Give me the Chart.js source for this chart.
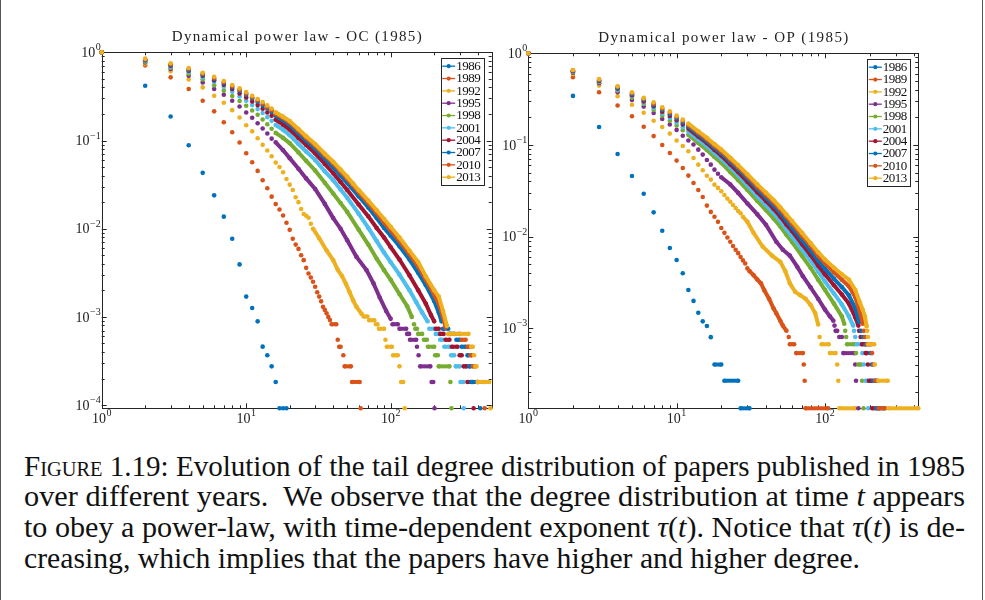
<!DOCTYPE html>
<html>
<head>
<meta charset="utf-8">
<script src="https://cdn.jsdelivr.net/npm/chart.js@4.4.0/dist/chart.umd.min.js"></script>
<style>
  body { margin: 0; background: #fff; width: 985px; height: 600px; position: relative; overflow: hidden; font-family: "Liberation Serif", serif; }
  .frame { position: absolute; top: 0; bottom: 0; width: 1px; background: #555; }
  #wrapL { position: absolute; left: 0; top: 0; width: 500px; height: 440px; }
  #wrapR { position: absolute; left: 500px; top: 0; width: 485px; height: 440px; }
  #caption { position: absolute; left: 24px; top: 451.5px; width: 960px; font-size: 28.5px; line-height: 30.8px; color: #111; }
  #caption .ln { white-space: nowrap; height: 30.8px; }
  #caption .ln span.inner { display: inline-block; transform-origin: 0 50%; }
  .sc { font-variant: small-caps; }
</style>
</head>
<body>
<div class="frame" style="left:0"></div>
<div class="frame" style="left:982px"></div>
<div id="wrapL"><canvas id="chartOC" width="500" height="440"></canvas></div>
<div id="wrapR"><canvas id="chartOP" width="485" height="440"></canvas></div>
<div id="caption">
  <div class="ln"><span class="inner">F<span class="sc">igure</span> 1.19: Evolution of the tail degree distribution of papers published in 1985</span></div>
  <div class="ln"><span class="inner">over different years.&nbsp; We observe that the degree distribution at time <i>t</i> appears</span></div>
  <div class="ln"><span class="inner">to obey a power-law, with time-dependent exponent <i>τ</i>(<i>t</i>). Notice that <i>τ</i>(<i>t</i>) is de-</span></div>
  <div class="ln"><span class="inner">creasing, which implies that the papers have higher and higher degree.</span></div>
</div>
<script>
// years and colours (MATLAB default order)
const years = [1986, 1989, 1992, 1995, 1998, 2001, 2004, 2007, 2010, 2013];
const colors = ['#0072BD', '#D95319', '#EDB120', '#7E2F8E', '#77AC30', '#4DBEEE', '#A2142F', '#0072BD', '#D95319', '#EDB120'];

// --- OC (1985): [degree, P(D >= degree)], null = gap ---
const oc1986 = [[1,1],[2,0.418],[3,0.187],[4,0.0885],[5,0.043],[6,0.0239],[7,0.0137],[8,0.0077],[9,0.00394],[10,0.0017],[11,0.00126],[12,0.00089],[13,4.6e-4],[14,3.67e-4],[15,2.75e-4],[16,1.83e-4],[17,9.2e-5],[18,9.2e-5],[19,9.2e-5]];
const oc1989 = [[1,1],[2,0.711],[3,0.52],[4,0.383],[5,0.282],[6,0.214],[7,0.161],[8,0.124],[9,0.0949],[10,0.0718],[11,0.0567],[12,0.0452],[13,0.0354],[14,0.0287],[15,0.0231],[16,0.019],[17,0.0165],[18,0.0141],[19,0.0117],[20,0.0097],[21,0.0077],[22,0.0066],[23,0.0059],[24,0.005],[25,0.0044],[26,0.0036],[27,0.0031],[28,0.0028],[29,0.0025],[30,0.0022],[31,0.0019],[32,0.0017],[33,0.0015],[34,0.0013],[35,0.0012],[36,0.0011],[37,0.001],[38,9.2e-4],[39,8.26e-4],[42,8.26e-4],null,[43,5.5e-4],[44,4.59e-4],[45,4.59e-4],null,[47,3.67e-4],null,[48,2.75e-4],[53,2.75e-4],null,[54,1.83e-4],[61,1.83e-4],null,[62,9.2e-5]];
const oc1992 = [[1,1],[2,0.743],[3,0.608],[4,0.493],[5,0.40],[6,0.322],[7,0.268],[8,0.221],[9,0.182],[10,0.149],[11,0.127],[12,0.106],[13,0.0893],[14,0.0769],[15,0.0664],[16,0.0562],[17,0.0501],[18,0.0437],[19,0.0366],[20,0.0316],[21,0.0275],[22,0.0227],[23,0.02],[24,0.0167],[25,0.0147],[26,0.014],[27,0.0133],[28,0.0114],[29,0.01],[32,0.0078],[36,0.00567],[40,0.0044],[43,0.00342],[46,0.0029],[49,0.00237],[52,0.0019],[55,0.00153],[58,0.0013],[63,0.00108],null,[65,1.01e-3],[69,1.01e-3],null,[71,9.17e-4],[77,9.17e-4],null,[79,8.26e-4],[81,8.26e-4],null,[83,7.34e-4],[90,7.34e-4],null,[92,5.5e-4],null,[94,4.59e-4],[102,4.59e-4],null,[104,3.67e-4],[112,3.67e-4],null,[115,2.75e-4],null,[118,1.83e-4],[122,1.83e-4],null,[125,9.2e-5]];
const oc1995 = [[1,1],[2,0.769],[3,0.647],[4,0.543],[5,0.456],[6,0.383],[7,0.330],[8,0.282],[9,0.243],[10,0.208],[11,0.181],[12,0.157],[13,0.137],[14,0.120],[15,0.105],[16,0.0955],[18,0.0776],[20,0.0631],[23,0.0479],[26,0.0372],[30,0.0282],[35,0.0191],[40,0.0132],[45,0.01],[50,0.00741],[58,0.00479],[68,0.00339],[76,0.0024],[84,0.00166],[93,0.00117],[100,9.5e-4],null,[103,8.26e-4],[112,8.26e-4],null,[115,7.34e-4],[128,7.34e-4],null,[130,6.42e-4],[134,6.42e-4],null,[136,5.5e-4],[150,5.5e-4],null,[152,4.59e-4],null,[156,3.67e-4],null,[160,2.75e-4],[188,2.75e-4],null,[192,1.83e-4],[197,1.83e-4],null,[201,9.2e-5]];
const oc1998 = [[1,1],[2,0.783],[3,0.670],[4,0.573],[5,0.493],[6,0.422],[7,0.366],[8,0.319],[9,0.280],[10,0.248],[11,0.219],[12,0.196],[13,0.173],[14,0.153],[15,0.136],[16,0.122],[18,0.107],[20,0.0933],[23,0.0733],[26,0.0589],[30,0.0457],[35,0.0331],[40,0.0251],[45,0.0195],[50,0.0155],[60,0.00977],[70,0.00661],[80,0.00457],[90,0.00339],[100,0.00263],[115,0.00182],[130,0.00132],[140,0.001],null,[145,8.26e-4],null,[148,7.34e-4],[152,7.34e-4],null,[155,6.42e-4],[165,6.42e-4],null,[170,5.5e-4],[178,5.5e-4],null,[181,4.59e-4],[200,4.59e-4],null,[203,3.67e-4],[212,3.67e-4],null,[215,2.75e-4],[255,2.75e-4],null,[259,1.83e-4],null,[263,9.2e-5]];
const oc2001 = [[1,1],[2,0.798],[3,0.687],[4,0.598],[5,0.520],[6,0.460],[7,0.404],[8,0.357],[9,0.316],[10,0.282],[11,0.252],[12,0.227],[13,0.205],[14,0.184],[15,0.167],[16,0.15],[18,0.132],[20,0.115],[23,0.0912],[26,0.075],[30,0.0603],[35,0.0447],[40,0.0355],[45,0.0279],[50,0.0224],[60,0.0148],[70,0.0102],[80,0.00724],[90,0.00537],[100,0.00417],[115,0.00302],[135,0.002],[150,0.00148],[165,0.00112],[180,8.9e-4],null,[185,7.34e-4],[200,7.34e-4],null,[205,6.42e-4],[215,6.42e-4],null,[220,5.5e-4],[228,5.5e-4],null,[235,4.59e-4],[255,4.59e-4],null,[262,3.67e-4],[275,3.67e-4],null,[282,2.75e-4],[300,2.75e-4],null,[304,1.83e-4],[318,1.83e-4],null,[320,9.2e-5]];
const oc2004 = [[1,1],[2,0.811],[3,0.705],[4,0.619],[5,0.543],[6,0.481],[7,0.430],[8,0.383],[9,0.342],[10,0.308],[11,0.277],[12,0.252],[13,0.229],[14,0.208],[15,0.191],[16,0.172],[18,0.151],[20,0.133],[23,0.107],[26,0.0891],[30,0.0716],[35,0.0543],[40,0.0427],[45,0.0339],[50,0.0275],[60,0.0188],[70,0.0138],[80,0.0102],[90,0.00794],[100,0.00617],[115,0.00447],[135,0.00295],[155,0.002],[175,0.00141],[190,0.00105],[200,8.9e-4],null,[205,7.34e-4],[215,7.34e-4],null,[220,6.42e-4],[232,6.42e-4],null,[240,5.5e-4],[255,5.5e-4],null,[265,4.59e-4],[290,4.59e-4],null,[300,3.67e-4],[310,3.67e-4],null,[320,2.75e-4],[335,2.75e-4],null,[340,1.83e-4],[370,1.83e-4],null,[375,9.2e-5]];
const oc2007 = [[1,1],[2,0.818],[3,0.718],[4,0.630],[5,0.557],[6,0.498],[7,0.449],[8,0.404],[9,0.364],[10,0.330],[11,0.300],[12,0.273],[13,0.250],[14,0.229],[15,0.210],[16,0.191],[18,0.17],[20,0.15],[23,0.12],[26,0.1],[30,0.0813],[35,0.0624],[40,0.0501],[45,0.0398],[50,0.0331],[60,0.0234],[70,0.0174],[80,0.0132],[90,0.0102],[100,0.00832],[115,0.00631],[135,0.00447],[155,0.00316],[175,0.00229],[200,0.00151],[215,0.00112],[225,8.9e-4],null,[230,7.34e-4],[250,7.34e-4],null,[260,6.42e-4],[275,6.42e-4],null,[285,5.5e-4],[300,5.5e-4],null,[310,4.59e-4],[330,4.59e-4],null,[340,3.67e-4],[345,3.67e-4],null,[350,2.75e-4],[355,2.75e-4],null,[360,1.83e-4],[400,1.83e-4],null,[417,9.2e-5]];
const oc2010 = [[1,1],[2,0.832],[3,0.731],[4,0.647],[5,0.573],[6,0.511],[7,0.460],[8,0.414],[9,0.377],[10,0.342],[11,0.310],[12,0.285],[13,0.261],[14,0.239],[15,0.221],[16,0.2],[18,0.18],[20,0.16],[23,0.129],[26,0.107],[30,0.0871],[35,0.0676],[40,0.055],[45,0.0442],[50,0.0367],[60,0.026],[70,0.0195],[80,0.015],[90,0.0117],[100,0.00955],[115,0.00724],[135,0.00513],[155,0.00372],[175,0.00263],[200,0.00178],[215,0.00141],[230,0.001],[240,7.6e-4],null,[255,6.42e-4],[300,6.42e-4],null,[310,5.5e-4],[330,5.5e-4],null,[340,4.59e-4],[350,4.59e-4],null,[358,3.67e-4],[362,3.67e-4],null,[370,2.75e-4],[385,2.75e-4],null,[400,1.83e-4],[440,1.83e-4],null,[447,9.2e-5]];
const oc2013 = [[1,1],[2,0.847],[3,0.750],[4,0.664],[5,0.587],[6,0.528],[7,0.472],[8,0.426],[9,0.390],[10,0.354],[11,0.322],[12,0.295],[13,0.273],[14,0.250],[15,0.231],[16,0.209],[18,0.186],[20,0.166],[23,0.135],[26,0.112],[30,0.0912],[35,0.0708],[40,0.0575],[45,0.0468],[50,0.0389],[55,0.0324],[60,0.0275],[70,0.0209],[80,0.0162],[90,0.0129],[100,0.0105],[115,0.00794],[135,0.00562],[155,0.00417],[175,0.00288],[200,0.002],[215,0.0017],[230,0.00117],[245,7.9e-4],null,[250,6.42e-4],[345,6.42e-4],null,[360,4.59e-4],[370,4.59e-4],null,[378,3.67e-4],null,[385,2.75e-4],[392,2.75e-4],null,[400,1.83e-4],[480,1.83e-4],null,[490,9.2e-5]];

// --- OP (1985) ---
const op1986 = [[1,1],[2,0.343],[3,0.157],[4,0.0798],[5,0.0459],[6,0.0294],[7,0.0184],[8,0.0116],[9,0.00752],[10,0.00556],[11,0.00398],[12,0.00262],[13,0.00199],[14,0.00148],[15,0.00119],[16,0.00106],[17,8.0e-4],[18,4.02e-4],[20,4.02e-4],null,[21,2.68e-4],[26,2.68e-4],null,[27,1.34e-4],[31,1.34e-4]];
const op1989 = [[1,1],[2,0.547],[3,0.376],[4,0.269],[5,0.206],[6,0.158],[7,0.125],[8,0.1],[9,0.0818],[10,0.0675],[11,0.0561],[12,0.0463],[13,0.0385],[14,0.0323],[15,0.0271],[16,0.0218],[17,0.0186],[18,0.0165],[19,0.0145],[20,0.0124],[21,0.011],[22,0.0098],[23,0.0088],[24,0.0079],[25,0.0072],[26,0.0066],[27,0.006],[28,0.0055],[29,0.0051],[30,0.0045],[31,0.0042],[33,0.0038],[35,0.0034],[37,0.0031],[39,0.0026],[42,0.0021],[45,0.00165],[47,0.00146],[50,0.00121],[52,0.00107],[55,9.4e-4],null,[57,8.04e-4],null,[58,6.7e-4],[62,6.7e-4],null,[64,5.36e-4],[71,5.36e-4],null,[72,4.02e-4],null,[73,2.68e-4],null,[74,1.34e-4],[105,1.34e-4]];
const op1992 = [[1,1],[2,0.596],[3,0.444],[4,0.340],[5,0.275],[6,0.225],[7,0.184],[8,0.157],[9,0.133],[10,0.112],[11,0.0975],[12,0.0853],[13,0.0721],[14,0.061],[15,0.053],[16,0.0462],[17,0.0419],[18,0.0369],[19,0.034],[20,0.0313],[21,0.0285],[22,0.026],[23,0.024],[24,0.0221],[25,0.0205],[26,0.019],[27,0.018],[28,0.0165],[30,0.0145],[33,0.011],[38,0.0078],[44,0.0062],[50,0.0053],[54,0.0042],[58,0.0031],[63,0.0025],[68,0.0023],[74,0.0021],[80,0.0018],[86,0.00146],[90,0.0011],null,[92,8.04e-4],null,[95,6.7e-4],[106,6.7e-4],null,[108,5.36e-4],[118,5.36e-4],null,[121,4.02e-4],null,[123,2.68e-4],null,[125,1.34e-4],[160,1.34e-4]];
const op1995 = [[1,1],[2,0.615],[3,0.471],[4,0.376],[5,0.310],[6,0.262],[7,0.223],[8,0.192],[9,0.167],[10,0.146],[11,0.126],[12,0.112],[13,0.101],[14,0.0889],[15,0.0785],[16,0.0686],[17,0.061],[18,0.0538],[19,0.0486],[20,0.0444],[23,0.037],[26,0.03],[30,0.023],[35,0.0175],[40,0.0135],[47,0.0088],[52,0.0072],[58,0.0062],[65,0.0047],[71,0.0037],[80,0.0028],[90,0.0021],[100,0.0016],[108,0.00135],[114,0.00121],null,[116,1.07e-3],null,[118,9.38e-4],[121,9.38e-4],null,[125,8.04e-4],[130,8.04e-4],null,[133,5.36e-4],[158,5.36e-4],null,[160,4.02e-4],null,[162,2.68e-4],null,[168,1.34e-4]];
const op1998 = [[1,1],[2,0.625],[3,0.483],[4,0.392],[5,0.328],[6,0.280],[7,0.241],[8,0.209],[9,0.184],[10,0.163],[11,0.145],[12,0.129],[14,0.105],[16,0.0881],[18,0.0741],[20,0.0638],[23,0.0507],[26,0.0414],[30,0.0324],[35,0.0245],[40,0.0195],[45,0.0158],[50,0.0129],[55,0.0105],[60,0.00871],[70,0.00617],[80,0.00457],[90,0.00339],[100,0.00263],[115,0.00186],[130,0.00135],[135,0.00112],null,[137,9.38e-4],null,[139,8.04e-4],null,[141,6.7e-4],[158,6.7e-4],null,[162,5.36e-4],null,[168,4.02e-4],[175,4.02e-4],null,[178,2.68e-4],null,[182,1.34e-4]];
const op2001 = [[1,1],[2,0.631],[3,0.491],[4,0.402],[5,0.340],[6,0.290],[7,0.254],[8,0.221],[9,0.197],[10,0.175],[11,0.156],[12,0.140],[14,0.115],[16,0.097],[18,0.0818],[20,0.0708],[23,0.0569],[26,0.0466],[30,0.0363],[35,0.0275],[40,0.0221],[45,0.0181],[50,0.0148],[55,0.012],[60,0.01],[70,0.00724],[80,0.0055],[90,0.00417],[100,0.00324],[115,0.0024],[130,0.00182],[145,0.00135],[155,0.00107],null,[157,9.38e-4],null,[160,8.04e-4],null,[164,6.7e-4],[176,6.7e-4],null,[179,5.36e-4],null,[183,4.02e-4],null,[188,2.68e-4],[194,2.68e-4],null,[196,1.34e-4]];
const op2004 = [[1,1],[2,0.637],[3,0.499],[4,0.412],[5,0.348],[6,0.299],[7,0.264],[8,0.231],[9,0.207],[10,0.186],[11,0.167],[12,0.151],[14,0.124],[16,0.105],[18,0.0885],[20,0.0767],[23,0.0617],[26,0.0507],[30,0.0398],[35,0.0305],[40,0.0245],[45,0.0202],[50,0.0166],[55,0.0136],[60,0.0115],[70,0.00832],[80,0.00631],[90,0.00484],[100,0.00389],[115,0.00295],[130,0.00234],[145,0.00186],[160,0.00132],[168,0.00107],null,[170,9.38e-4],null,[174,8.04e-4],null,[178,6.7e-4],[186,6.7e-4],null,[188,5.36e-4],[192,5.36e-4],null,[195,4.02e-4],null,[198,2.68e-4],[206,2.68e-4],null,[208,1.34e-4],[232,1.34e-4]];
const op2007 = [[1,1],[2,0.647],[3,0.507],[4,0.419],[5,0.357],[6,0.310],[7,0.273],[8,0.241],[9,0.216],[10,0.194],[11,0.175],[12,0.158],[14,0.130],[16,0.110],[18,0.0933],[20,0.0813],[23,0.0658],[26,0.0545],[30,0.0432],[35,0.0331],[40,0.0267],[45,0.022],[50,0.0182],[55,0.015],[60,0.0126],[70,0.00923],[80,0.00708],[90,0.0055],[100,0.00447],[115,0.00347],[130,0.00282],[145,0.00229],[160,0.00166],[170,0.00117],null,[175,9.38e-4],null,[180,8.04e-4],null,[188,6.7e-4],[200,6.7e-4],null,[203,5.36e-4],null,[207,4.02e-4],null,[211,2.68e-4],[220,2.68e-4],null,[222,1.34e-4],[250,1.34e-4]];
const op2010 = [[1,1],[2,0.653],[3,0.516],[4,0.430],[5,0.366],[6,0.318],[7,0.282],[8,0.249],[9,0.225],[10,0.202],[11,0.183],[12,0.165],[14,0.136],[16,0.115],[18,0.0977],[20,0.0851],[23,0.0692],[26,0.0575],[30,0.0457],[35,0.0351],[40,0.0285],[45,0.0237],[50,0.0197],[55,0.0164],[60,0.0138],[70,0.0102],[80,0.00794],[90,0.00617],[100,0.00513],[115,0.00407],[130,0.00339],[145,0.00288],[160,0.00219],[172,0.00151],[180,0.00112],null,[183,9.38e-4],null,[186,8.04e-4],null,[192,6.7e-4],[205,6.7e-4],null,[208,5.36e-4],null,[212,4.02e-4],null,[218,2.68e-4],[226,2.68e-4],null,[230,1.34e-4],[255,1.34e-4]];
const op2013 = [[1,1],[2,0.658],[3,0.525],[4,0.437],[5,0.376],[6,0.326],[7,0.292],[8,0.258],[9,0.233],[10,0.209],[11,0.189],[12,0.171],[14,0.141],[16,0.12],[18,0.102],[20,0.0891],[23,0.0724],[26,0.0603],[30,0.0479],[35,0.0372],[40,0.0302],[45,0.0251],[50,0.0209],[55,0.0174],[60,0.0148],[70,0.011],[80,0.00851],[90,0.00676],[100,0.00562],[115,0.00457],[130,0.00389],[145,0.00339],[160,0.00263],[172,0.00191],[180,0.00158],[186,0.00135],[191,0.00105],null,[193,9.38e-4],null,[195,8.04e-4],null,[196,6.7e-4],[215,6.7e-4],null,[217,4.02e-4],null,[229,2.68e-4],[265,2.68e-4],null,[268,1.34e-4],[426,1.34e-4]];

// axis limits
const ocRange = { xMin: 1, xMax: 500, yMin: 9.2e-5, yMax: 1 };
const opRange = { xMin: 1, xMax: 426, yMin: 1.34e-4, yMax: 1 };

const ocSeries = [oc1986, oc1989, oc1992, oc1995, oc1998, oc2001, oc2004, oc2007, oc2010, oc2013];
const opSeries = [op1986, op1989, op1992, op1995, op1998, op2001, op2004, op2007, op2010, op2013];

const INK = '#262626';

function toPoints(arr) {
    const out = [];
    let lastX = 1;
    arr.forEach(p => {
        if (p === null) {
            out.push({ x: lastX, y: null });
        } else {
            out.push({ x: p[0], y: p[1] });
            lastX = p[0];
        }
    });
    return out;
}

// only join points that are more than one degree apart (dense stretches / plateaus)
function segColor(ctx) {
    const d = ctx.chart.data.datasets[ctx.datasetIndex].data;
    const gap = d[ctx.p1DataIndex].x - d[ctx.p0DataIndex].x;
    return gap > 1.5 ? undefined : 'rgba(0,0,0,0)';
}

function buildDatasets(series) {
    return series.map((s, i) => ({
        label: String(years[i]),
        data: toPoints(s),
        showLine: true,
        spanGaps: false,
        borderColor: colors[i],
        backgroundColor: colors[i],
        pointBackgroundColor: colors[i],
        pointBorderWidth: 0,
        pointRadius: 2.3,
        borderWidth: 4,
        clip: false,
        order: series.length - 1 - i,
        segment: { borderColor: segColor }
    }));
}

function drawPow(ctx, x, y, exp, align) {
    const base = '10';
    ctx.font = '14px "Liberation Serif", serif';
    const wb = ctx.measureText(base).width;
    ctx.font = '10px "Liberation Serif", serif';
    const ex = exp < 0 ? '\u2212' + Math.abs(exp) : String(exp);
    const we = ctx.measureText(ex).width;
    const w = wb + we + 0.5;
    const x0 = align === 'right' ? x - w : x - w / 2;
    ctx.textAlign = 'left';
    ctx.textBaseline = 'middle';
    ctx.font = '14px "Liberation Serif", serif';
    ctx.fillText(base, x0, y);
    ctx.font = '10px "Liberation Serif", serif';
    ctx.fillText(ex, x0 + wb + 0.5, y - 5.5);
}

function spacedText(ctx, text, cx, cy, targetW) {
    const chars = text.split('');
    const widths = chars.map(c => ctx.measureText(c).width);
    const natural = widths.reduce((a, b) => a + b, 0);
    const gap = (targetW - natural) / (chars.length - 1);
    let x = cx - targetW / 2;
    ctx.textAlign = 'left';
    ctx.textBaseline = 'middle';
    chars.forEach((c, i) => {
        ctx.fillText(c, x, cy);
        x += widths[i] + gap;
    });
}

// axes box, log ticks, labels and title (MATLAB look)
const axesPlugin = {
    id: 'matlabAxes',
    beforeDatasetsDraw(chart, args, opts) {
        const { ctx, chartArea: a, scales: { x, y } } = chart;
        ctx.save();
        ctx.strokeStyle = INK;
        ctx.lineWidth = 1;
        ctx.strokeRect(Math.round(a.left) + 0.5, Math.round(a.top) + 0.5, Math.round(a.right - a.left), Math.round(a.bottom - a.top));

        const ticks = (min, max) => {
            const res = [];
            for (let d = Math.floor(Math.log10(min)); d <= Math.ceil(Math.log10(max)); d++) {
                for (let m = 1; m <= 9; m++) {
                    const v = m * Math.pow(10, d);
                    if (v >= min * 0.999 && v <= max * 1.001) res.push({ v, major: m === 1, d });
                }
            }
            return res;
        };
        ctx.beginPath();
        ticks(x.min, x.max).forEach(t => {
            const px = Math.round(x.getPixelForValue(t.v)) + 0.5;
            const len = t.major ? 5 : 3;
            ctx.moveTo(px, a.bottom); ctx.lineTo(px, a.bottom - len);
            ctx.moveTo(px, a.top); ctx.lineTo(px, a.top + len);
        });
        ticks(y.min, y.max).forEach(t => {
            const py = Math.round(y.getPixelForValue(t.v)) + 0.5;
            const len = t.major ? 5 : 3;
            ctx.moveTo(a.left, py); ctx.lineTo(a.left + len, py);
            ctx.moveTo(a.right, py); ctx.lineTo(a.right - len, py);
        });
        ctx.stroke();

        ctx.fillStyle = '#222';
        ticks(x.min, x.max).filter(t => t.major).forEach(t => {
            drawPow(ctx, x.getPixelForValue(t.v), a.bottom + 11, t.d, 'center');
        });
        ticks(y.min, y.max).filter(t => t.major).forEach(t => {
            drawPow(ctx, a.left - 1, y.getPixelForValue(t.v) + 1, t.d, 'right');
        });

        ctx.font = '15px "Liberation Serif", serif';
        spacedText(ctx, opts.title, (a.left + a.right) / 2, a.top - 15.3, 250);
        ctx.restore();
    },
    afterDatasetsDraw(chart) {
        const { ctx, chartArea: a } = chart;
        const bw = 42.5, bh = 127;
        const bx = a.right - 8.5 - bw, by = a.top + 5.5;
        ctx.save();
        ctx.fillStyle = '#fff';
        ctx.fillRect(bx, by, bw, bh);
        ctx.strokeStyle = INK;
        ctx.lineWidth = 1;
        ctx.strokeRect(Math.round(bx) + 0.5, Math.round(by) + 0.5, Math.round(bw), Math.round(bh));
        ctx.font = '13px "Liberation Serif", serif';
        ctx.textBaseline = 'middle';
        ctx.textAlign = 'left';
        chart.data.datasets.forEach((ds, i) => {
            const ry = by + 8.4 + i * 12.33;
            ctx.strokeStyle = ds.borderColor;
            ctx.lineWidth = 1.3;
            ctx.beginPath();
            ctx.moveTo(bx + 1.5, ry); ctx.lineTo(bx + 14.5, ry);
            ctx.stroke();
            ctx.fillStyle = ds.borderColor;
            ctx.beginPath();
            ctx.arc(bx + 8, ry, 2.1, 0, Math.PI * 2);
            ctx.fill();
            ctx.fillStyle = '#111';
            spacedText(ctx, ds.label, bx + 15.5 + 12.3, ry + 0.5, 24.5);
        });
        ctx.restore();
    }
};

function makeChart(id, series, range, title, pad) {
    return new Chart(document.getElementById(id), {
        type: 'scatter',
        data: { datasets: buildDatasets(series) },
        options: {
            responsive: false,
            animation: false,
            devicePixelRatio: 1,
            events: [],
            layout: { padding: pad },
            plugins: {
                legend: { display: false },
                tooltip: { enabled: false },
                matlabAxes: { title: title }
            },
            scales: {
                x: { type: 'logarithmic', min: range.xMin, max: range.xMax, display: false },
                y: { type: 'logarithmic', min: range.yMin, max: range.yMax, display: false }
            }
        },
        plugins: [axesPlugin]
    });
}

makeChart('chartOC', ocSeries, ocRange, 'Dynamical power law - OC (1985)',
    { left: 101.7, top: 52.3, right: 500 - 491.7, bottom: 440 - 408.3 });
makeChart('chartOP', opSeries, opRange, 'Dynamical power law - OP (1985)',
    { left: 28.3, top: 53.3, right: 485 - 418.3, bottom: 440 - 408.3 });

// fit each caption line to the width it takes in the figure
const lineWidths = [941, 941, 941, 836];
document.querySelectorAll('#caption .inner').forEach((el, i) => {
    const w = el.getBoundingClientRect().width;
    el.style.transform = 'scaleX(' + (lineWidths[i] / w) + ')';
});
</script>
</body>
</html>
